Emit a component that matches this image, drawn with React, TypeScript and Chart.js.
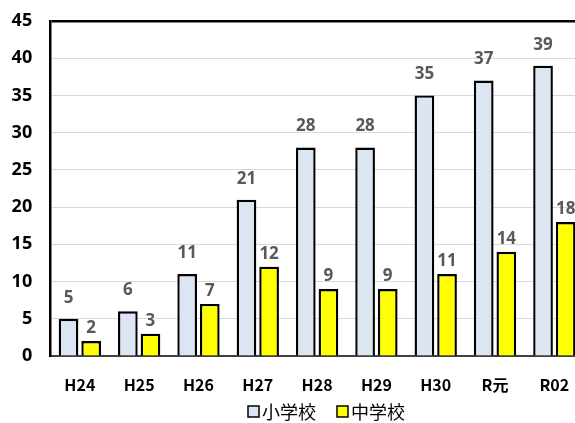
import React, { useEffect, useRef } from "react";
import { Chart, registerables } from "chart.js";

Chart.register(...registerables);

const categories = ["H24", "H25", "H26", "H27", "H28", "H29", "H30", "R元", "R02"];
const elementary = [5, 6, 11, 21, 28, 28, 35, 37, 39];
const juniorHigh = [2, 3, 7, 12, 9, 9, 11, 14, 18];
const seriesNames = ["小学校", "中学校"];
const yMin = 0;
const yMax = 45;
const yStep = 5;

const BLUE = "#dce6f2";
const YELLOW = "#ffff00";

const labelPlugin = {
  id: "barValueLabels",
  afterDatasetsDraw(chart: any) {
    const ctx = chart.ctx;
    ctx.save();
    ctx.font = "bold 17px 'Open Sans', sans-serif";
    ctx.fillStyle = "#595959";
    ctx.textAlign = "center";
    ctx.textBaseline = "middle";
    chart.data.datasets.forEach((ds: any, i: number) => {
      const meta = chart.getDatasetMeta(i);
      const off = i === 0 ? 21 : 13;
      meta.data.forEach((bar: any, j: number) => {
        ctx.fillText(String(ds.data[j]), bar.x, bar.y - off);
      });
    });
    ctx.restore();
  },
};

const legendPlugin = {
  id: "customLegend",
  afterDraw(chart: any) {
    const ctx = chart.ctx;
    ctx.save();
    ctx.font = "18px 'Noto Sans CJK JP', sans-serif";
    ctx.textBaseline = "middle";
    ctx.textAlign = "left";
    const y = 412;
    let x = 248;
    chart.data.datasets.forEach((ds: any) => {
      ctx.fillStyle = ds.backgroundColor;
      ctx.fillRect(x, y - 6, 11, 11);
      ctx.strokeStyle = "#000";
      ctx.lineWidth = 1.5;
      ctx.strokeRect(x, y - 6, 11, 11);
      ctx.fillStyle = "#000";
      ctx.fillText(ds.label, x + 14, y);
      x += 14 + ctx.measureText(ds.label).width + 21;
    });
    ctx.restore();
  },
};

export default function App() {
  const ref = useRef<HTMLCanvasElement | null>(null);
  useEffect(() => {
    if (!ref.current) return;
    const chart = new Chart(ref.current, {
      type: "bar",
      data: {
        labels: categories,
        datasets: [
          {
            label: seriesNames[0],
            data: elementary,
            backgroundColor: BLUE,
            borderColor: "#000",
            borderWidth: 2.4,
            categoryPercentage: 0.763,
            barPercentage: 0.87,
          },
          {
            label: seriesNames[1],
            data: juniorHigh,
            backgroundColor: YELLOW,
            borderColor: "#000",
            borderWidth: 2.4,
            categoryPercentage: 0.763,
            barPercentage: 0.87,
          },
        ],
      },
      options: {
        responsive: false,
        animation: false,
        layout: { padding: { left: 0, top: 21, right: 0, bottom: 0 } },
        plugins: {
          legend: { display: false },
          tooltip: { enabled: false },
        },
        scales: {
          x: {
            grid: { drawOnChartArea: false, drawTicks: false },
            border: { display: true, color: "#404040", width: 2 },
            ticks: {
              color: "#000",
              padding: 19,
              font: { family: "'Noto Sans CJK JP', sans-serif", size: 16, weight: "bold" },
            },
            afterFit: (s: any) => {
              s.height = 67;
              s.paddingLeft = 0;
              s.paddingRight = 0;
            },
          },
          y: {
            min: yMin,
            max: yMax,
            ticks: {
              stepSize: yStep,
              color: "#000",
              padding: 18,
              font: { family: "'Open Sans', sans-serif", size: 18, weight: "bold" },
            },
            grid: {
              drawTicks: false,
              color: (c: any) => (c.tick && c.tick.value === yMax ? "#000" : "#d9d9d9"),
              lineWidth: (c: any) => (c.tick && c.tick.value === yMax ? 2.5 : 1),
            },
            border: { display: true, color: "#000", width: 2.5 },
            afterFit: (s: any) => {
              s.width = 50.2;
              s.paddingTop = 0;
              s.paddingBottom = 0;
            },
          },
        },
      },
      plugins: [labelPlugin, legendPlugin],
    });
    return () => chart.destroy();
  }, []);
  return (
    <div style={{ position: "absolute", left: 0, top: 0, width: 584, height: 423, overflow: "hidden", background: "#fff" }}>
      <canvas ref={ref} width={584} height={423} />
    </div>
  );
}
